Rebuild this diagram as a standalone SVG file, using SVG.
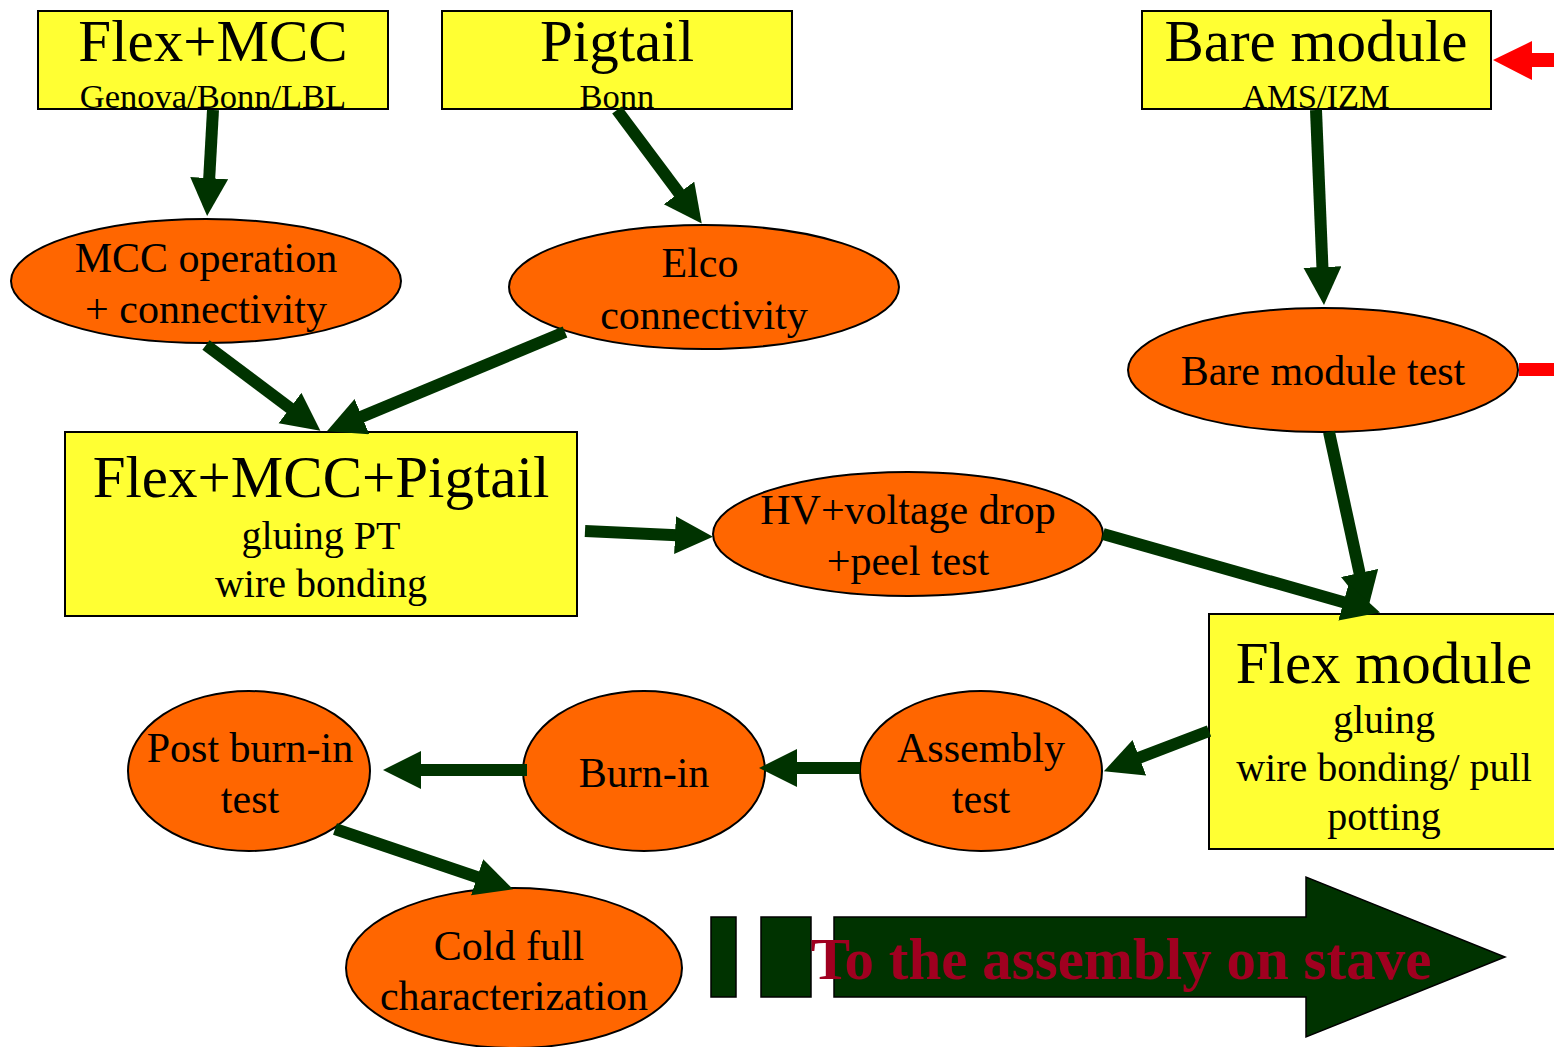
<svg xmlns="http://www.w3.org/2000/svg" width="1554" height="1047" viewBox="0 0 1554 1047">
<style>
.box{fill:#FFFF33;stroke:#000;stroke-width:2}
.ell{fill:#FF6600;stroke:#000;stroke-width:2}
.t{font-family:"Liberation Serif","Times New Roman",serif;fill:#000;text-anchor:middle}
.big{font-size:59px}
.sub{font-size:34.5px}
.mid{font-size:40px}
.el{font-size:42px}
.con{stroke:#003300;stroke-width:12;fill:none;marker-end:url(#ah)}
</style>
<defs>
<marker id="ah" markerUnits="userSpaceOnUse" markerWidth="40" markerHeight="40" refX="2" refY="19" orient="auto">
<path d="M0,0 L38,19 L0,38 z" fill="#003300"/>
</marker>
</defs>
<rect width="1554" height="1047" fill="#fff"/>

<g id="flexmcc"><rect class="box" x="38" y="11" width="350" height="98"/><text class="t big" x="213" y="61">Flex+MCC</text><text class="t sub" x="213" y="108">Genova/Bonn/LBL</text></g>
<g id="pigtail"><rect class="box" x="442" y="11" width="350" height="98"/><text class="t big" x="617" y="61">Pigtail</text><text class="t sub" x="617" y="108">Bonn</text></g>
<g id="baremodule"><rect class="box" x="1142" y="11" width="349" height="98"/><text class="t big" x="1316" y="61">Bare module</text><text class="t sub" x="1316" y="108">AMS/IZM</text></g>

<g id="mccop"><ellipse class="ell" cx="206" cy="281" rx="195" ry="62"/><text class="t el" x="206" y="272">MCC operation</text><text class="t el" x="206" y="323">+ connectivity</text></g>
<g id="elco"><ellipse class="ell" cx="704" cy="287" rx="195" ry="62"/><text class="t el" x="700" y="277">Elco</text><text class="t el" x="704" y="329">connectivity</text></g>
<g id="baretest"><ellipse class="ell" cx="1323" cy="370" rx="195" ry="62"/><text class="t el" x="1323" y="385">Bare module test</text></g>

<g id="fmp"><rect class="box" x="65" y="432" width="512" height="184"/><text class="t big" x="321" y="497">Flex+MCC+Pigtail</text><text class="t mid" x="321" y="549">gluing PT</text><text class="t mid" x="321" y="597">wire bonding</text></g>
<g id="hv"><ellipse class="ell" cx="908" cy="534" rx="195" ry="62"/><text class="t el" x="908" y="524">HV+voltage drop</text><text class="t el" x="908" y="575">+peel test</text></g>

<g id="flexmodule"><rect class="box" x="1209" y="614" width="350" height="235"/><text class="t big" x="1384" y="683">Flex module</text><text class="t mid" x="1384" y="733">gluing</text><text class="t mid" x="1384" y="781">wire bonding/ pull</text><text class="t mid" x="1384" y="830">potting</text></g>

<g id="asmtest"><ellipse class="ell" cx="981" cy="771" rx="121" ry="80"/><text class="t el" x="981" y="762">Assembly</text><text class="t el" x="981" y="813">test</text></g>
<g id="burnin"><ellipse class="ell" cx="644" cy="771" rx="121" ry="80"/><text class="t el" x="644" y="787">Burn-in</text></g>
<g id="postburnin"><ellipse class="ell" cx="249" cy="771" rx="121" ry="80"/><text class="t el" x="250" y="762">Post burn-in</text><text class="t el" x="250" y="813">test</text></g>
<g id="cold"><ellipse class="ell" cx="514" cy="968" rx="168" ry="80"/><text class="t el" x="509" y="960">Cold full</text><text class="t el" x="514" y="1010">characterization</text></g>

<g id="stave">
<rect x="711" y="917" width="25" height="80" fill="#003300" stroke="#000" stroke-width="1.5"/>
<rect x="761" y="917" width="50" height="80" fill="#003300" stroke="#000" stroke-width="1.5"/>
<path d="M834,917 L1306,917 L1306,877 L1505,957 L1306,1037 L1306,997 L834,997 z" fill="#003300" stroke="#000" stroke-width="1.5"/>
<text x="1121" y="979" font-family="'Liberation Serif','Times New Roman',serif" font-weight="bold" font-size="59" fill="#A00020" text-anchor="middle">To the assembly on stave</text>
</g>

<g id="connectors">
<line class="con" x1="213" y1="110" x2="209.1" y2="180.1"/>
<line class="con" x1="617" y1="110" x2="680.2" y2="194.6"/>
<line class="con" x1="206" y1="345" x2="291.6" y2="409.2"/>
<line class="con" x1="565" y1="332" x2="360.1" y2="417.4"/>
<line class="con" x1="1316" y1="110" x2="1322.5" y2="269"/>
<line class="con" x1="1329" y1="432" x2="1360" y2="574.9"/>
<line class="con" x1="1103" y1="534" x2="1345.4" y2="602.7"/>
<line class="con" x1="585" y1="531" x2="677" y2="535.2"/>
<line class="con" x1="1209" y1="731" x2="1137.5" y2="758.4"/>
<line class="con" x1="860" y1="768" x2="795" y2="768"/>
<line class="con" x1="527" y1="770" x2="419" y2="770"/>
<line class="con" x1="335" y1="829" x2="479" y2="877.8"/>
<path d="M1554,53 L1532,53 L1532,41 L1493,60 L1532,80 L1532,67 L1554,67 z" fill="#FF0000"/>
<rect x="1519" y="363" width="35" height="13" fill="#FF0000"/>
</g>
</svg>
